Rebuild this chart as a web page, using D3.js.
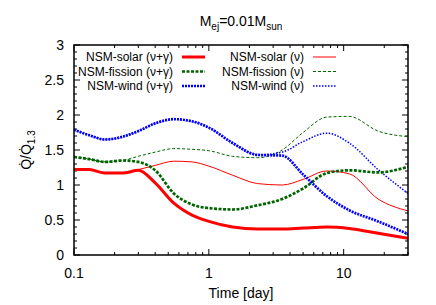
<!DOCTYPE html>
<html>
<head>
<meta charset="utf-8">
<script src="https://cdn.jsdelivr.net/npm/d3@7"></script>
<style>
  body { margin: 0; background: #fff; }
  text { font-family: "Liberation Sans", Arial, sans-serif; }
</style>
</head>
<body>
<div id="canvas"></div>
<script>
// plot box (gnuplot style)
var width = 436,
  height = 305;
var margin = { top: 45, right: 28, bottom: 50, left: 74 };

// time grid [day]
var times = [0.1, 0.13, 0.17, 0.23, 0.3, 0.4, 0.55, 0.75, 1, 1.5, 2.3, 3.5, 5, 7.5, 11, 18, 30];

// Qdot / Qdot_1.3 for each model
var solarNG = [1.22, 1.22, 1.17, 1.17, 1.21, 1.03, 0.74, 0.57, 0.48, 0.40, 0.37, 0.37, 0.385, 0.40, 0.38, 0.31, 0.24];
var solarN = [1.22, 1.22, 1.17, 1.17, 1.22, 1.28, 1.34, 1.33, 1.27, 1.14, 1.02, 1.00, 1.08, 1.20, 1.16, 0.80, 0.63];
var fissionNG = [1.40, 1.37, 1.33, 1.35, 1.33, 1.21, 0.88, 0.72, 0.67, 0.65, 0.71, 0.80, 0.95, 1.17, 1.21, 1.18, 1.26];
var fissionN = [1.40, 1.37, 1.33, 1.35, 1.41, 1.47, 1.52, 1.51, 1.49, 1.41, 1.39, 1.50, 1.75, 1.97, 1.98, 1.77, 1.69];
var windNG = [1.79, 1.71, 1.65, 1.69, 1.77, 1.88, 1.94, 1.91, 1.82, 1.60, 1.43, 1.42, 1.15, 0.84, 0.64, 0.48, 0.30];
var windN = [1.79, 1.71, 1.65, 1.69, 1.77, 1.88, 1.94, 1.91, 1.82, 1.60, 1.43, 1.47, 1.62, 1.74, 1.60, 1.22, 0.88];

var labels = [
  "NSM-solar (\u03bd+\u03b3)", "NSM-fission (\u03bd+\u03b3)", "NSM-wind (\u03bd+\u03b3)",
  "NSM-solar (\u03bd)", "NSM-fission (\u03bd)", "NSM-wind (\u03bd)"
];

var xTicks = [0.1, 1, 10];
var yTicks = [0, 0.5, 1, 1.5, 2, 2.5, 3];

// line styles
var series = [
  { vals: solarN, color: "#ff0000", w: 1, dash: null },
  { vals: fissionN, color: "#006400", w: 1, dash: "3,2" },
  { vals: windN, color: "#0000ff", w: 1.5, dash: "1.5,1.5" },
  { vals: solarNG, color: "#ff0000", w: 3, dash: null },
  { vals: fissionNG, color: "#006400", w: 2.7, dash: "3,1.5" },
  { vals: windNG, color: "#0000ff", w: 2.7, dash: "2,1" }
];

var svg = d3.select("#canvas").append("svg")
  .attr("width", width)
  .attr("height", height);

var x = d3.scaleLog().domain([0.1, 30]).range([margin.left, width - margin.right]);
var y = d3.scaleLinear().domain([0, 3]).range([height - margin.bottom, margin.top]);

var x0 = x.range()[0], x1 = x.range()[1];
var y0 = y.range()[0], y1 = y.range()[1];

svg.append("clipPath").attr("id", "clip")
  .append("rect")
  .attr("x", x0).attr("y", y1)
  .attr("width", x1 - x0).attr("height", y0 - y1);

// minor/major ticks, mirrored, pointing inward
var minorX = [];
for (var dec = 0.1; dec < 30; dec *= 10) {
  for (var k = 2; k <= 9; k++) {
    if (dec * k <= 30) minorX.push(dec * k);
  }
}
var ticksG = svg.append("g").attr("stroke", "#000").attr("stroke-width", 1);
minorX.forEach(function (v) {
  ticksG.append("line").attr("x1", x(v)).attr("x2", x(v)).attr("y1", y0).attr("y2", y0 - 3);
  ticksG.append("line").attr("x1", x(v)).attr("x2", x(v)).attr("y1", y1).attr("y2", y1 + 3);
});
xTicks.forEach(function (v) {
  ticksG.append("line").attr("x1", x(v)).attr("x2", x(v)).attr("y1", y0).attr("y2", y0 - 6);
  ticksG.append("line").attr("x1", x(v)).attr("x2", x(v)).attr("y1", y1).attr("y2", y1 + 6);
});
d3.range(0, 31).forEach(function (i) {
  var v = i / 10;
  var len = i % 5 == 0 ? 6 : 3;
  ticksG.append("line").attr("x1", x0).attr("x2", x0 + len).attr("y1", y(v)).attr("y2", y(v));
  ticksG.append("line").attr("x1", x1).attr("x2", x1 - len).attr("y1", y(v)).attr("y2", y(v));
});

// tick labels
svg.selectAll(".xl").data(xTicks).enter().append("text")
  .attr("x", function (d) { return x(d); })
  .attr("y", 278)
  .attr("text-anchor", "middle")
  .attr("font-size", 14)
  .text(function (d) { return d; });

svg.selectAll(".yl").data(yTicks).enter().append("text")
  .attr("x", 64)
  .attr("y", function (d) { return y(d) + 5; })
  .attr("text-anchor", "end")
  .attr("font-size", 14)
  .text(function (d) { return d; });

// data lines
var line = d3.line()
  .x(function (d, i) { return x(times[i]); })
  .y(function (d) { return y(d); })
  .curve(d3.curveMonotoneX);

var plotG = svg.append("g").attr("clip-path", "url(#clip)");
series.forEach(function (s) {
  plotG.append("path")
    .attr("d", line(s.vals))
    .attr("fill", "none")
    .attr("stroke", s.color)
    .attr("stroke-width", s.w)
    .attr("stroke-dasharray", s.dash);
});

// legend, two columns
var legendG = svg.append("g").attr("font-size", 12);
var order = [3, 4, 5, 0, 1, 2];
labels.forEach(function (lab, i) {
  var col = Math.floor(i / 3), row = i % 3;
  var s = series[order[i]];
  var tx = col == 0 ? 173 : 304;
  var ly = 57 + row * 14.5;
  legendG.append("text")
    .attr("x", tx).attr("y", ly + 4)
    .attr("text-anchor", "end")
    .text(lab);
  legendG.append("line")
    .attr("x1", tx + 9).attr("x2", tx + 32)
    .attr("y1", ly).attr("y2", ly)
    .attr("stroke", s.color)
    .attr("stroke-width", s.w)
    .attr("stroke-dasharray", s.dash);
});

// border
svg.append("rect")
  .attr("x", x0).attr("y", y1)
  .attr("width", x1 - x0).attr("height", y0 - y1)
  .attr("fill", "none")
  .attr("stroke", "#000")
  .attr("stroke-width", 1.5);

// title
var title = svg.append("text")
  .attr("x", (x0 + x1) / 2)
  .attr("y", 26)
  .attr("text-anchor", "middle")
  .attr("font-size", 14);
title.append("tspan").text("M");
title.append("tspan").attr("dy", 4).attr("font-size", 10).text("ej");
title.append("tspan").attr("dy", -4).text("=0.01M");
title.append("tspan").attr("dy", 4).attr("font-size", 10).text("sun");

// axis labels
svg.append("text")
  .attr("x", (x0 + x1) / 2)
  .attr("y", 298)
  .attr("text-anchor", "middle")
  .attr("font-size", 14)
  .text("Time [day]");

var ylab = svg.append("text")
  .attr("transform", "translate(31,150) rotate(-90)")
  .attr("text-anchor", "middle")
  .attr("font-size", 14);
ylab.append("tspan").text("Q\u0307/Q\u0307");
ylab.append("tspan").attr("dy", 4).attr("font-size", 10).text("1.3");
</script>
</body>
</html>
